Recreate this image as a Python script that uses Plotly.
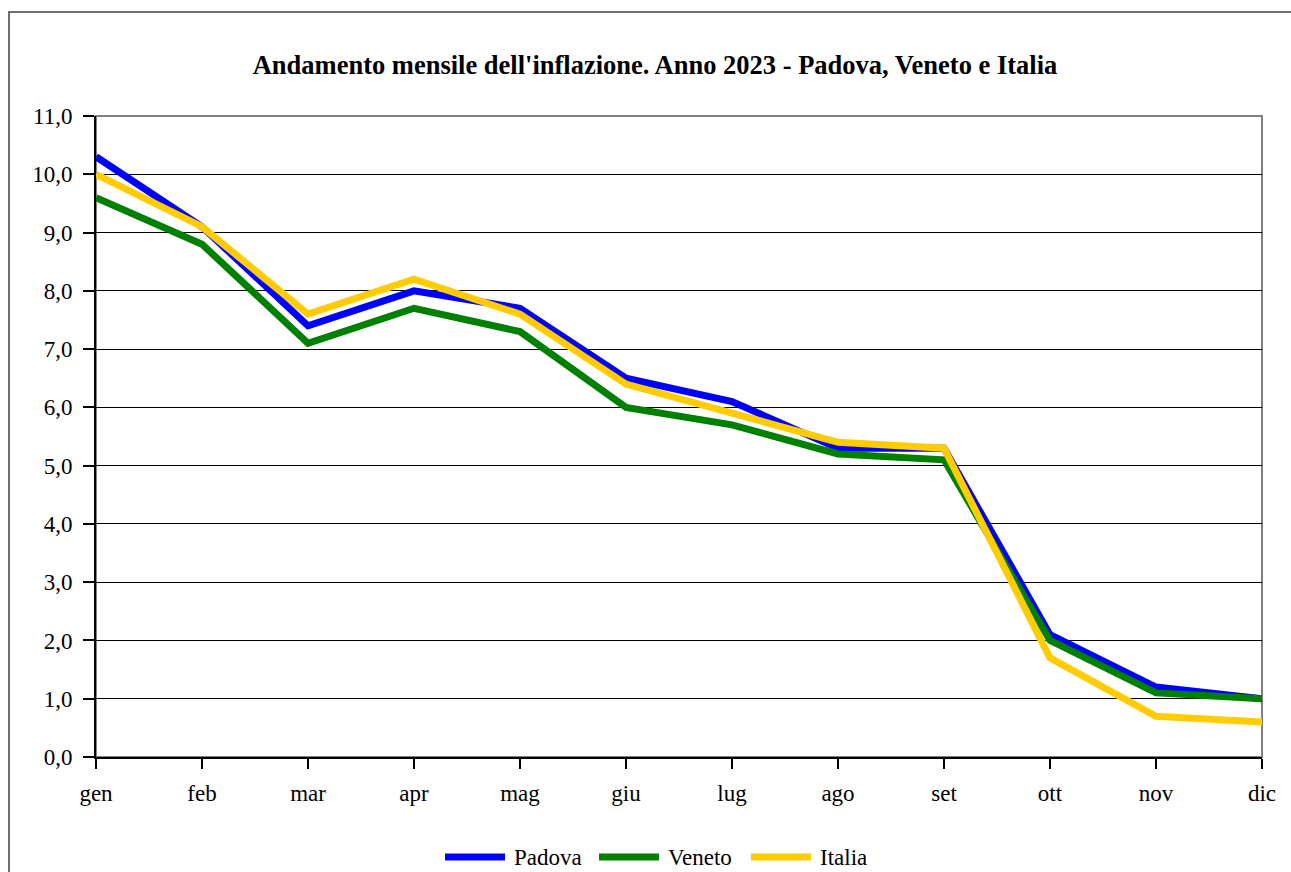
import plotly.graph_objects as go

months = ["gen", "feb", "mar", "apr", "mag", "giu", "lug", "ago", "set", "ott", "nov", "dic"]
padova = [10.3, 9.1, 7.4, 8.0, 7.7, 6.5, 6.1, 5.3, 5.3, 2.1, 1.2, 1.0]
veneto = [9.6, 8.8, 7.1, 7.7, 7.3, 6.0, 5.7, 5.2, 5.1, 2.0, 1.1, 1.0]
italia = [10.0, 9.1, 7.6, 8.2, 7.6, 6.4, 5.9, 5.4, 5.3, 1.7, 0.7, 0.6]

series = [
    ("Padova", padova, "#0000FF"),
    ("Veneto", veneto, "#008000"),
    ("Italia", italia, "#FFCC00"),
]

font = "Liberation Serif, Times New Roman, serif"

# plot area in pixels (used to convert to paper coords)
L, R, T, B = 96, 1262, 116, 757
W, H = R - L, B - T


def px(x):
    return (x - L) / W


def py(y):
    return (B - y) / H


fig = go.Figure()
for name, vals, col in series:
    fig.add_trace(go.Scatter(
        x=months, y=vals, name=name, mode="lines",
        line=dict(color=col, width=7), showlegend=False,
    ))

# plot-area border (grey) and outer frame
fig.add_shape(type="rect", xref="paper", yref="paper", x0=0, y0=0, x1=1, y1=1,
              line=dict(color="#808080", width=2), layer="below")
fig.add_shape(type="rect", xref="paper", yref="paper",
              x0=px(9), y0=-0.4, x1=1.2, y1=py(12),
              line=dict(color="#404040", width=1.5), layer="below")

# legend drawn by hand (long line samples like the original)
leg_x = [445, 599, 751]
for (name, _, col), x0 in zip(series, leg_x):
    fig.add_shape(type="line", xref="paper", yref="paper",
                  x0=px(x0), x1=px(x0 + 60), y0=py(857), y1=py(857),
                  line=dict(color=col, width=7))
    fig.add_annotation(text=name, xref="paper", yref="paper",
                       x=px(x0 + 67), y=py(857), xanchor="left", yanchor="middle",
                       showarrow=False, font=dict(family=font, size=23, color="black"))

fig.update_layout(
    width=1291, height=872,
    margin=dict(l=L, r=1291 - R, t=T, b=872 - B),
    paper_bgcolor="white", plot_bgcolor="white",
    separators=",.",
    font=dict(family=font, size=23, color="black"),
    title=dict(
        text="<b>Andamento mensile dell'inflazione. Anno 2023 - Padova, Veneto e Italia</b>",
        x=px(655), xref="paper", xanchor="center",
        y=1 - 65 / 872, yanchor="middle",
        font=dict(family=font, size=26.5, color="black"),
    ),
    showlegend=False,
)

fig.update_xaxes(
    type="category", range=[0, 11],
    showgrid=False, showline=True, linecolor="black", linewidth=2,
    ticks="outside", ticklen=10, tickcolor="black", tickwidth=1.5,
    ticklabelstandoff=4,
    tickfont=dict(family=font, size=23),
    zeroline=False,
)
fig.update_yaxes(
    range=[0, 11], dtick=1, tickformat=".1f",
    showgrid=True, gridcolor="black", gridwidth=1,
    showline=True, linecolor="black", linewidth=2,
    ticks="outside", ticklen=11, tickcolor="black", tickwidth=1.5,
    ticklabelstandoff=6,
    tickfont=dict(family=font, size=23),
    zeroline=False,
)

fig.write_html("out.html", config={"displayModeBar": False},
               post_script="document.body.style.margin='0';")
